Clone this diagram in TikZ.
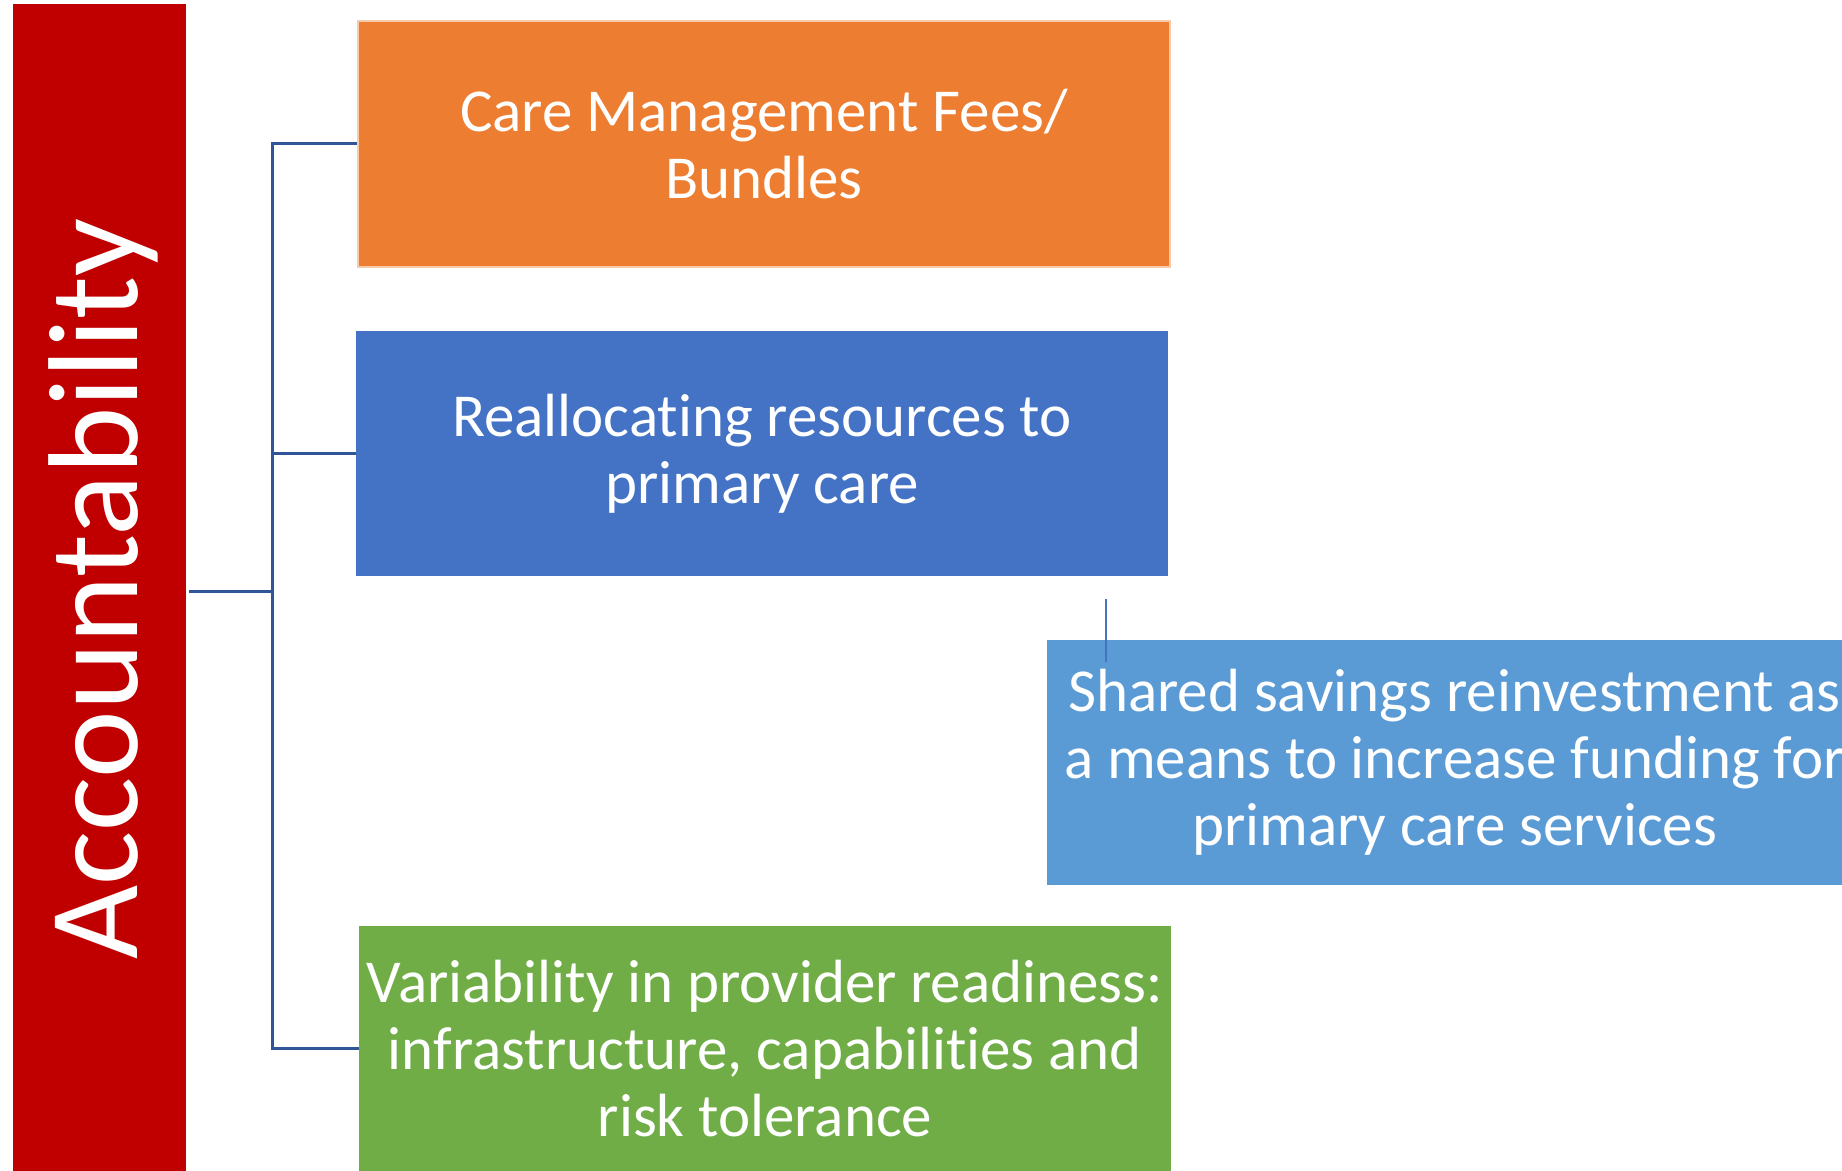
\documentclass[tikz,border=0pt]{standalone}
\usepackage{fontspec}
\setmainfont{Carlito}[Ligatures={NoCommon}]
\definecolor{accred}{HTML}{C00000}
\definecolor{accorange}{HTML}{ED7D31}
\definecolor{accorangeedge}{HTML}{F8CBAD}
\definecolor{accblue}{HTML}{4472C4}
\definecolor{acclightblue}{HTML}{5B9BD5}
\definecolor{accgreen}{HTML}{70AD47}
\definecolor{connblue}{HTML}{2F5597}
\tikzset{
  boxtext/.style={text=white, align=center, inner sep=0pt,
    font=\fontsize{30.5}{33.5}\selectfont},
  conn/.style={draw=connblue, line width=1.5pt},
  stubline/.style={draw=accblue, line width=0.7pt},
}
\begin{document}
\begin{tikzpicture}[x=0.5pt,y=-0.5pt]
\useasboundingbox (0,0) rectangle (1842,1171);
\clip (0,0) rectangle (1842,1171);
% left bar
\node[fill=accred, minimum width=86.5pt, minimum height=584pt, inner sep=0pt] (bar) at (99.5,588) {};
\node[text=white, rotate=90, anchor=base, inner sep=0pt,
  font=\fontsize{64}{70}\selectfont] (bartext) at (137,589) {Accountability};
% boxes
\node[boxtext, fill=accorange, draw=accorangeedge, line width=1pt,
  minimum width=406pt, minimum height=123pt] (orange) at (764,144)
  {Care Management Fees/\\Bundles};
\node[boxtext, fill=accblue, minimum width=406pt, minimum height=122.5pt]
  (blue) at (762,453.5) {Reallocating resources to\\primary care};
\node[boxtext, fill=acclightblue, minimum width=407.5pt, minimum height=122.5pt]
  (lightblue) at (1454.5,762.5)
  {Shared savings reinvestment as\\a means to increase funding for\\primary care services};
\node[boxtext, fill=accgreen, minimum width=406pt, minimum height=122.5pt]
  (green) at (765,1048.5)
  {Variability in provider readiness:\\infrastructure, capabilities and\\risk tolerance};
% connectors
\coordinate (spine) at (272,591);
\draw[conn] (orange.west) -| (spine) |- (green.west);
\draw[conn] (spine |- blue.west) -- (blue.west);
\draw[conn] ([xshift=1.5pt]bar.east |- spine) -- (spine);
% leftover stub
\coordinate (stubtop) at (1106,599);
\coordinate (stubbot) at (1106,662);
\draw[stubline] (stubtop) -- (stubbot);
\end{tikzpicture}
\end{document}
